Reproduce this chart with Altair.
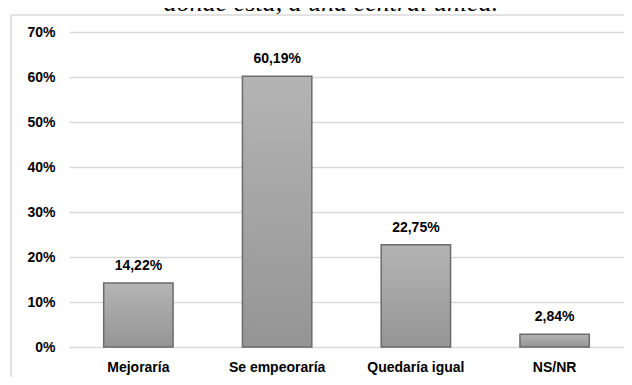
import altair as alt
import pandas as pd

categories = ["Mejoraría", "Se empeoraría", "Quedaría igual", "NS/NR"]
values = [14.22, 60.19, 22.75, 2.84]
y_ticks = [0, 10, 20, 30, 40, 50, 60, 70]
title_text = "donde está, a una central única."

df = pd.DataFrame({
    "cat": categories,
    "val": values,
    "lab": [f"{v:.2f}".replace(".", ",") + "%" for v in values],
})

FONT = "Liberation Sans"

x_enc = alt.X("cat:N", sort=categories,
              scale=alt.Scale(paddingInner=0.5, paddingOuter=0.25),
              axis=alt.Axis(title=None, labelAngle=0, domain=False, ticks=False,
                            labelPadding=13, labelFont=FONT, labelFontSize=14,
                            labelFontWeight="bold", labelColor="#000000"))
y_enc = alt.Y("val:Q", scale=alt.Scale(domain=[0, 70], nice=False),
              axis=alt.Axis(title=None, values=y_ticks, labelExpr="datum.value + '%'",
                            domain=False, ticks=False, grid=True, gridColor="#d9d9d9",
                            gridWidth=1.5, labelPadding=14, labelFont=FONT,
                            labelFontSize=14, labelFontWeight="bold",
                            labelColor="#000000"))

grad = alt.Gradient(gradient="linear",
                    stops=[alt.GradientStop(color="#b4b4b4", offset=0),
                           alt.GradientStop(color="#959595", offset=1)],
                    x1=1, x2=1, y1=0, y2=1)

base = alt.Chart(df)

bars = base.mark_bar(color=grad, stroke="#6b6b6b", strokeWidth=1.5).encode(
    x=x_enc, y=y_enc)

labels = base.mark_text(font=FONT, fontSize=14, fontWeight="bold", color="#000000",
                        baseline="alphabetic", dy=-13).encode(
    x=alt.X("cat:N", sort=categories), y="val:Q", text="lab:N")

one = alt.Data(values=[{"t": title_text}])

border_left = alt.Chart(one).mark_rule(stroke="#d9d9d9", strokeWidth=1.5).encode(
    x=alt.value(-58), y=alt.value(-17), y2=alt.value(360))
border_top = alt.Chart(one).mark_rule(stroke="#d9d9d9", strokeWidth=1.5).encode(
    x=alt.value(-58), x2=alt.value(560), y=alt.value(-17))

title = alt.Chart(one).mark_text(font="Liberation Serif", fontStyle="italic", fontSize=26,
                                 color="#000000", align="center",
                                 baseline="alphabetic").encode(
    x=alt.value(262), y=alt.value(-21), text="t:N")

chart = alt.layer(border_left, border_top, bars, labels, title).properties(
    width=555, height=315,
    autosize="none",
    padding={"left": 61, "top": 24, "right": 0, "bottom": 30},
    background="#ffffff",
).configure_view(stroke=None)

chart.save("out.html", embed_options={"renderer": "svg", "actions": False})
